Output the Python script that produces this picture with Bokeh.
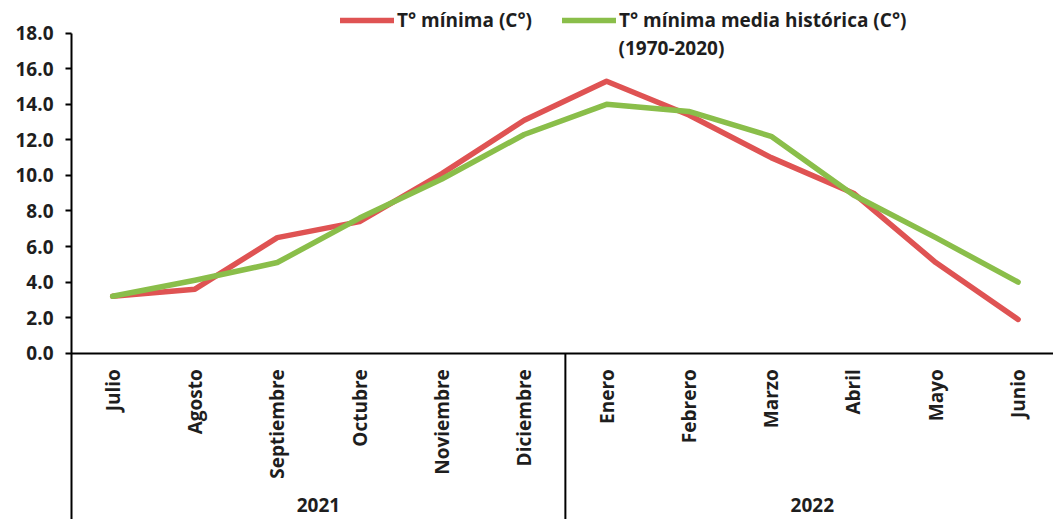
import numpy as np
from bokeh.plotting import figure
from bokeh.models import (Range1d, FixedTicker, NumeralTickFormatter, Legend,
                          LegendItem, Label, ColumnDataSource)
from bokeh.embed import file_html
from bokeh.resources import INLINE

# ---------------- data ----------------
months = ["Julio", "Agosto", "Septiembre", "Octubre", "Noviembre", "Diciembre",
          "Enero", "Febrero", "Marzo", "Abril", "Mayo", "Junio"]
years = ["2021", "2022"]
months_per_year = [6, 6]
t_min = [3.2, 3.6, 6.5, 7.4, 10.1, 13.1, 15.3, 13.4, 11.0, 9.0, 5.1, 1.9]
t_min_hist = [3.2, 4.1, 5.1, 7.6, 9.8, 12.3, 14.0, 13.6, 12.2, 8.9, 6.5, 4.0]
y_ticks = [0, 2, 4, 6, 8, 10, 12, 14, 16, 18]
label_min = "T° mínima (C°)"
label_hist = "T° mínima media histórica (C°)"
label_hist_period = "(1970-2020)"

# ---------------- style / layout ----------------
RED = "#DF5353"
GREEN = "#8ABE4A"
TXT = "#1E1E1E"
FONT = "Open Sans"
FSIZE = "19px"

W, H = 1053, 519
BORDER_LEFT = 71
TOP_OF_MAX = 32.7          # screen px from top to the highest tick
ZERO_PX = 352.7            # screen px from top to value 0
y_max = max(y_ticks)
px_per_unit = (ZERO_PX - TOP_OF_MAX) / y_max
y_top = y_max + TOP_OF_MAX / px_per_unit
y_bottom = -(H - ZERO_PX) / px_per_unit

x = list(range(len(months)))
src = ColumnDataSource(dict(x=x, month=months, t_min=t_min, t_min_hist=t_min_hist))

p = figure(width=W, height=H, output_backend="svg", toolbar_location=None,
           x_range=Range1d(-0.5, 11.43), y_range=Range1d(y_bottom, y_top),
           min_border_left=BORDER_LEFT, min_border_top=0,
           min_border_right=0, min_border_bottom=0)
p.outline_line_color = None
p.xgrid.visible = False
p.ygrid.visible = False

# group boundaries (separators between years)
bounds = [-0.5]
for n in months_per_year:
    bounds.append(bounds[-1] + n)
inner = bounds[1:]
sep = ColumnDataSource(dict(x=inner, y0=[0] * len(inner), y1=[y_bottom] * len(inner)))
p.segment(x0="x", y0="y0", x1="x", y1="y1", source=sep, line_color="black",
          line_width=2)

r_min = p.line(x="x", y="t_min", source=src, line_color=RED, line_width=5.5,
               line_join="round", line_cap="round")
r_hist = p.line(x="x", y="t_min_hist", source=src, line_color=GREEN, line_width=5.5,
                line_join="round", line_cap="round")

# y axis (its line continues down as the first separator)
yax = p.yaxis[0]
yax.bounds = (y_bottom, y_max)
yax.ticker = FixedTicker(ticks=y_ticks, minor_ticks=[])
yax.formatter = NumeralTickFormatter(format="0.0")
yax.axis_line_width = 2
yax.axis_line_color = "black"
yax.major_tick_line_width = 2
yax.major_tick_line_color = "black"
yax.major_tick_out = 6
yax.major_tick_in = 0
yax.minor_tick_line_color = None
yax.major_label_standoff = 12
yax.major_label_text_font = FONT
yax.major_label_text_font_style = "bold"
yax.major_label_text_font_size = FSIZE
yax.major_label_text_color = TXT

# x axis: months, drawn at value 0
xax = p.xaxis[0]
xax.fixed_location = 0
xax.ticker = FixedTicker(ticks=x, minor_ticks=[])
xax.major_label_overrides = {i: m for i, m in zip(x, months)}
xax.major_label_orientation = np.pi / 2
xax.axis_line_width = 2
xax.axis_line_color = "black"
xax.major_tick_out = 0
xax.major_tick_in = 0
xax.major_tick_line_color = None
xax.minor_tick_line_color = None
xax.major_label_standoff = 16
xax.major_label_text_font = FONT
xax.major_label_text_font_style = "bold"
xax.major_label_text_font_size = FSIZE
xax.major_label_text_color = TXT

# year group labels
for i, yr in enumerate(years):
    center = bounds[i] + months_per_year[i] / 2
    p.add_layout(Label(x=center, y=15, x_units="data", y_units="screen", text=yr,
                       text_align="center", text_baseline="middle",
                       text_font=FONT, text_font_style="bold",
                       text_font_size=FSIZE, text_color=TXT))

# legends
def make_legend(label, renderer, loc):
    return Legend(items=[LegendItem(label=label, renderers=[renderer])],
                  location=loc, orientation="horizontal",
                  glyph_width=54, glyph_height=20, label_standoff=3,
                  padding=0, margin=0, spacing=0,
                  border_line_color=None, background_fill_alpha=0,
                  label_text_font=FONT, label_text_font_style="bold",
                  label_text_font_size=FSIZE, label_text_color=TXT)

p.add_layout(make_legend(label_min, r_min, (269, 486)))
p.add_layout(make_legend(label_hist, r_hist, (491, 486)))
p.add_layout(Label(x=547, y=472, x_units="screen", y_units="screen",
                   text=label_hist_period, text_align="left", text_baseline="middle",
                   text_font=FONT, text_font_style="bold", text_font_size=FSIZE,
                   text_color=TXT))

open("out.html", "w").write(file_html(p, INLINE))
